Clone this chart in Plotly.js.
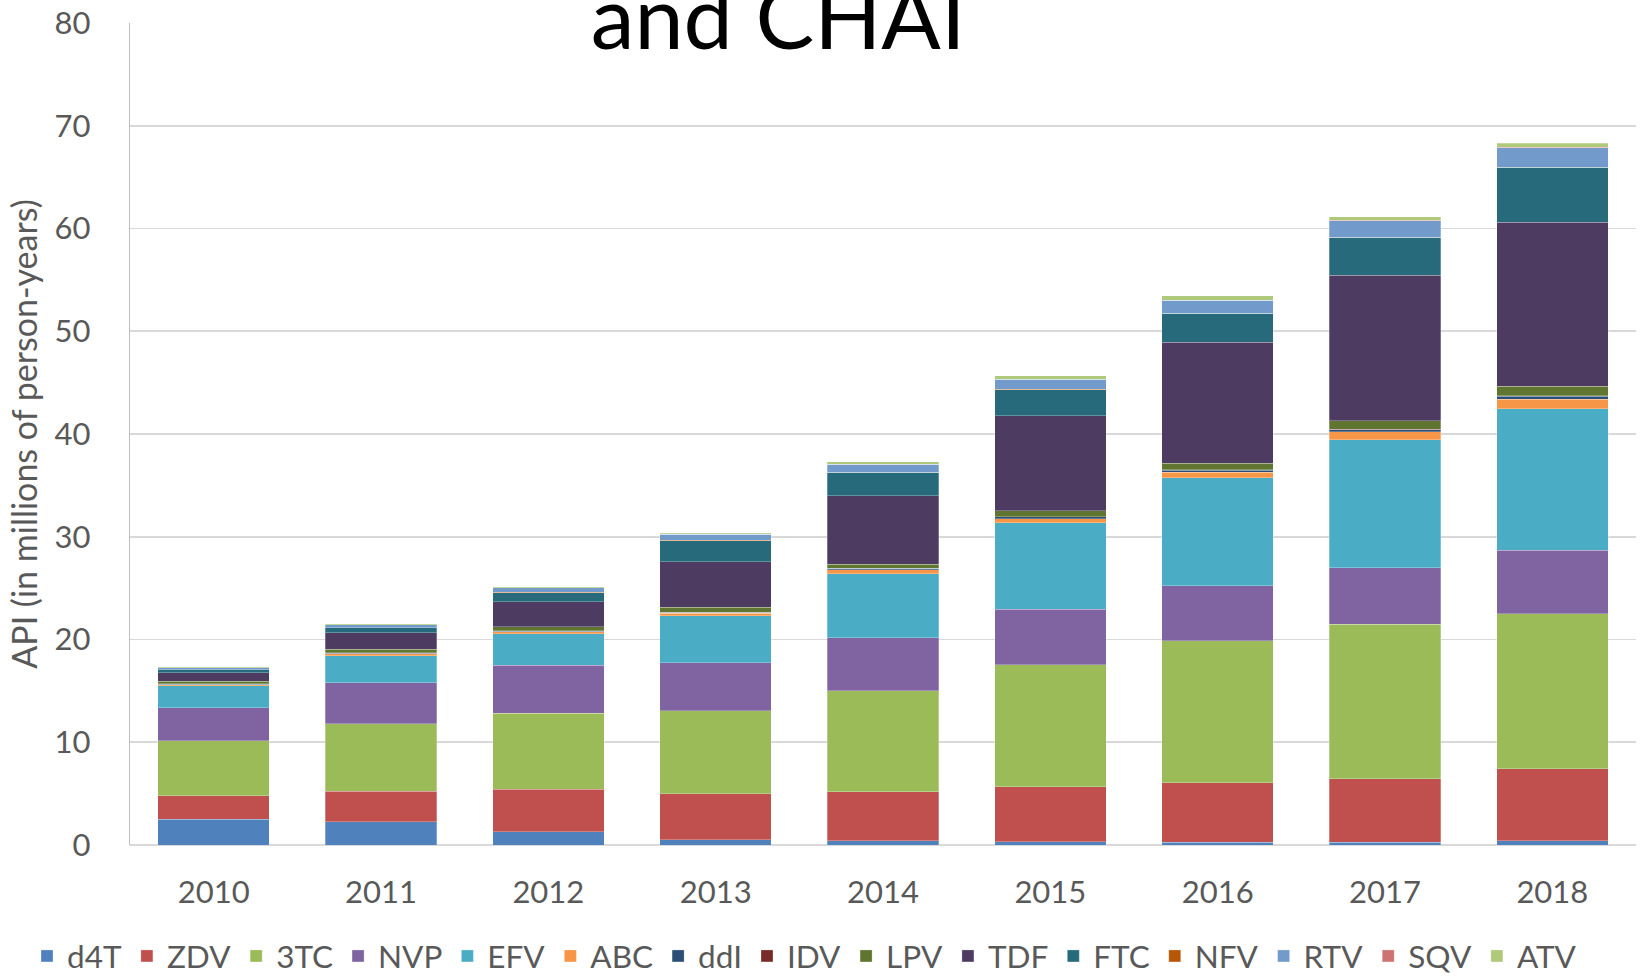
<!DOCTYPE html>
<html>
<head>
<meta charset="utf-8">
<script src="https://cdn.plot.ly/plotly-3.0.1.min.js"></script>
<style>html,body{margin:0;padding:0;background:#fff;overflow:hidden}#chart{width:1640px;height:976px}</style>
</head>
<body>
<div id="chart"></div>
<script>
const years = ['2010','2011','2012','2013','2014','2015','2016','2017','2018'];
const drugNames = ['d4T','ZDV','3TC','NVP','EFV','ABC','ddI','IDV','LPV','TDF','FTC','NFV','RTV','SQV','ATV'];
const drugColors = ['#4F81BD','#C0504D','#9BBB59','#8064A2','#4BACC6','#F79646','#2C4D75','#772C2A','#5F7530','#4D3B62','#276A7C','#B65708','#729ACA','#CD7371','#AFC97A'];

const d4T = [2.50, 2.27, 1.30, 0.49, 0.42, 0.32, 0.29, 0.29, 0.39];
const ZDV = [2.30, 2.96, 4.15, 4.48, 4.77, 5.36, 5.78, 6.17, 7.01];
const TC3 = [5.33, 6.55, 7.37, 8.08, 9.84, 11.85, 13.79, 15.03, 15.09];
const NVP = [3.24, 3.99, 4.68, 4.70, 5.16, 5.42, 5.36, 5.51, 6.21];
const EFV = [2.14, 2.66, 3.05, 4.55, 6.23, 8.40, 10.54, 12.46, 13.78];
const ABC = [0.10, 0.20, 0.19, 0.26, 0.36, 0.39, 0.53, 0.75, 0.92];
const ddI = [0.05, 0.05, 0.07, 0.07, 0.14, 0.20, 0.19, 0.20, 0.29];
const IDV = [0.02, 0.02, 0.02, 0.02, 0.02, 0.03, 0.03, 0.03, 0.03];
const LPV = [0.26, 0.35, 0.40, 0.49, 0.37, 0.55, 0.66, 0.85, 0.91];
const TDF = [0.84, 1.62, 2.46, 4.45, 6.68, 9.25, 11.78, 14.18, 16.00];
const FTC = [0.26, 0.46, 0.88, 2.04, 2.28, 2.56, 2.78, 3.66, 5.32];
const NFV = [0.01, 0.01, 0.01, 0.01, 0.01, 0.01, 0.01, 0.01, 0.01];
const RTV = [0.19, 0.28, 0.44, 0.58, 0.77, 0.97, 1.26, 1.62, 1.91];
const SQV = [0.02, 0.02, 0.02, 0.02, 0.02, 0.02, 0.02, 0.02, 0.02];
const ATV = [0.08, 0.08, 0.08, 0.11, 0.23, 0.34, 0.43, 0.37, 0.40];

const yTicks = [0, 10, 20, 30, 40, 50, 60, 70, 80];
const seriesValues = [d4T, ZDV, TC3, NVP, EFV, ABC, ddI, IDV, LPV, TDF, FTC, NFV, RTV, SQV, ATV];

const FONT = 'Lato, "Open Sans", sans-serif';
const GREY = '#595959';

const traces = drugNames.map((name, i) => ({
  type: 'bar',
  name: name,
  x: years,
  y: seriesValues[i],
  marker: {color: drugColors[i], line: {color: 'rgba(255,255,255,0.45)', width: 0.6}},
  hoverinfo: 'x+y+name'
}));

const layout = {
  width: 1640,
  height: 976,
  barmode: 'stack',
  bargap: 0.334,
  paper_bgcolor: '#ffffff',
  plot_bgcolor: '#ffffff',
  margin: {l: 130, r: 4, t: 23, b: 131, pad: 0, autoexpand: false},
  font: {family: FONT, color: GREY},
  title: {
    text: 'and CHAI',
    font: {family: FONT, size: 88, color: '#000000'},
    xref: 'container', x: 0.4745, xanchor: 'center',
    yref: 'container', y: 0.981, yanchor: 'middle'
  },
  xaxis: {
    type: 'category',
    tickfont: {family: FONT, size: 31, color: GREY},
    ticks: '', showline: false, showgrid: false,
    ticklabelstandoff: 26
  },
  yaxis: {
    range: [0, 80],
    tickvals: yTicks,
    ticktext: yTicks.map(String),
    tickfont: {family: FONT, size: 31, color: GREY},
    showgrid: true, gridcolor: '#D9D9D9', gridwidth: 1.6,
    showline: true, linecolor: '#BFBFBF', linewidth: 1.3,
    zeroline: true, zerolinecolor: '#D9D9D9', zerolinewidth: 1.6,
    ticks: '',
    ticklabelstandoff: 32,
    title: {text: 'API (in millions of person-years)', font: {family: FONT, size: 34, color: GREY}, standoff: 6}
  },
  legend: {
    orientation: 'h',
    x: -0.0684, xanchor: 'left',
    y: -0.135, yanchor: 'middle',
    font: {family: FONT, size: 31.5, color: GREY},
    traceorder: 'normal',
    itemclick: false, itemdoubleclick: false,
    bgcolor: 'rgba(0,0,0,0)'
  },
  showlegend: true
};

Plotly.newPlot('chart', traces, layout, {displayModeBar: false, staticPlot: true});
</script>
</body>
</html>
